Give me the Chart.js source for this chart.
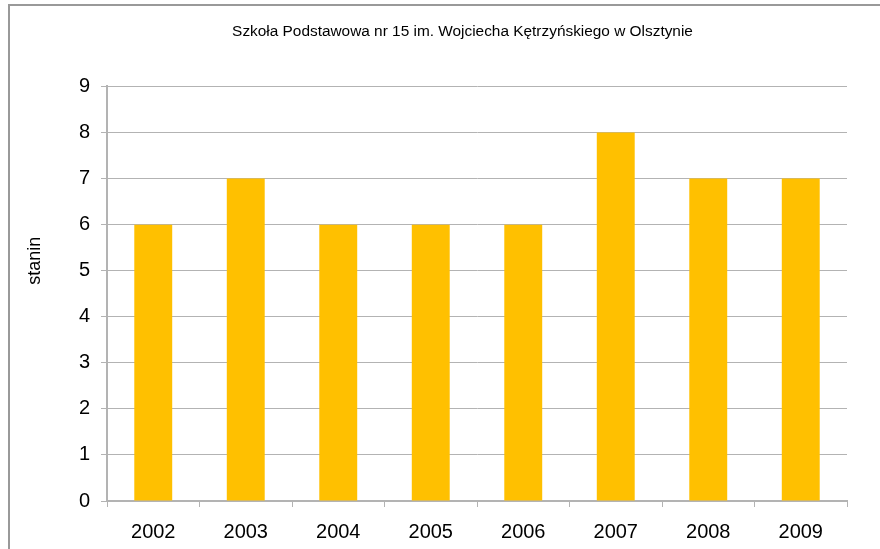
<!DOCTYPE html>
<html>
<head>
<meta charset="utf-8">
<script src="https://cdn.jsdelivr.net/npm/chart.js@4"></script>
<style>
    body { margin: 0; background: #fff; }
    .frame { position: absolute; left: 0; top: 0; width: 880px; height: 549px; overflow: hidden; }
    .border { position: absolute; left: 8px; top: 4px; width: 900px; height: 600px; border-left: 2px solid #999; border-top: 2px solid #999; }
    canvas { position: absolute; left: 0; top: 0; }
</style>
</head>
<body>
<div class="frame">
    <div class="border"></div>
    <canvas id="chart" width="880" height="549"></canvas>
</div>
<script>
// data
const years = ["2002", "2003", "2004", "2005", "2006", "2007", "2008", "2009"];
const stanin = [6, 7, 6, 6, 6, 8, 7, 7];
const yTicks = [0, 1, 2, 3, 4, 5, 6, 7, 8, 9];
const yTitle = "stanin";

const gridColor = "#b3b3b3";
const font = "Arial, 'Liberation Sans', sans-serif";

// title sits a bit right of the canvas centre, axis title a bit above the plot centre
const offsets = {
    id: "offsets",
    afterLayout: (chart) => {
        chart.titleBlock.left += 26;
        chart.titleBlock.right += 26;
    },
    afterDraw: (chart) => {
        const ctx = chart.ctx;
        ctx.save();
        ctx.translate(35, chart.chartArea.top + (chart.chartArea.bottom - chart.chartArea.top) / 2 - 33);
        ctx.rotate(-Math.PI / 2);
        ctx.font = `18px ${font}`;
        ctx.fillStyle = "#000";
        ctx.textAlign = "center";
        ctx.textBaseline = "middle";
        ctx.fillText(yTitle, 0, 0);
        ctx.restore();
    },
};

new Chart(document.getElementById("chart"), {
    type: "bar",
    data: {
        labels: years,
        datasets: [
            {
                data: stanin,
                backgroundColor: "#ffc000",
                barPercentage: 0.41,
                categoryPercentage: 1,
            },
        ],
    },
    options: {
        responsive: false,
        animation: false,
        layout: {
            padding: { left: 26, right: 33, top: 0, bottom: 0 },
        },
        plugins: {
            legend: { display: false },
            tooltip: { enabled: false },
            title: {
                display: true,
                text: "Szkoła Podstawowa nr 15 im. Wojciecha Kętrzyńskiego w Olsztynie",
                color: "#000",
                font: { family: font, size: 15.4, weight: "normal" },
                padding: { top: 23, bottom: 45 },
            },
        },
        scales: {
            x: {
                grid: {
                    offset: true,
                    drawOnChartArea: false,
                    color: gridColor,
                    tickLength: 6,
                },
                border: { color: gridColor, width: 2 },
                ticks: { color: "#000", font: { family: font, size: 20 }, padding: 13 },
                afterFit: (s) => { s.height = 48; },
            },
            y: {
                min: 0,
                max: 9,
                afterBuildTicks: (s) => { s.ticks = yTicks.map((v) => ({ value: v })); },
                grid: { color: gridColor, lineWidth: 1, tickLength: 6 },
                border: { color: gridColor, width: 2 },
                ticks: { color: "#000", font: { family: font, size: 20 }, padding: 11 },
                afterFit: (s) => { s.width = 81; },
            },
        },
    },
    plugins: [offsets],
});
</script>
</body>
</html>
